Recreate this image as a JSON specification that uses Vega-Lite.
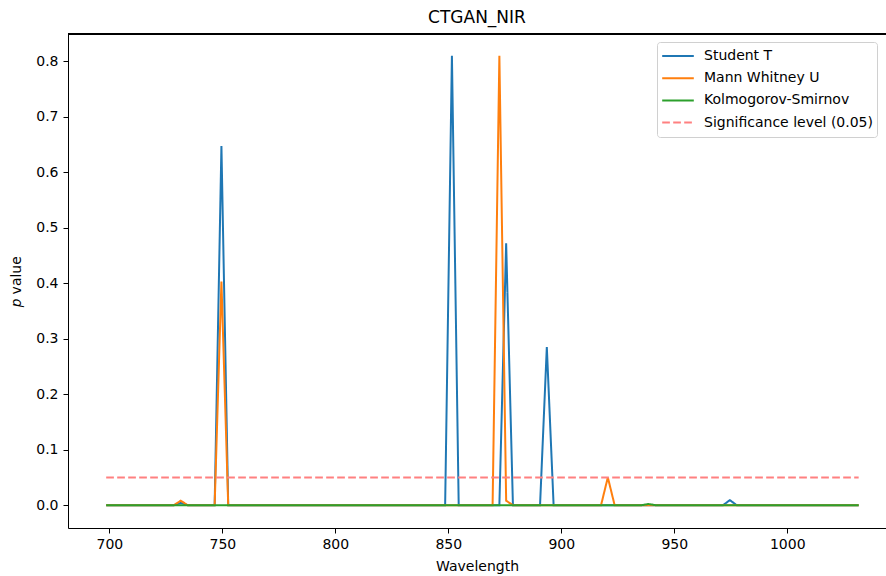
{
  "$schema": "https://vega.github.io/schema/vega-lite/v6.json",
  "width": 818,
  "height": 494,
  "autosize": "none",
  "padding": {"left": 68, "top": 34, "right": 0, "bottom": 48},
  "config": {
    "view": {"stroke": null},
    "font": "DejaVu Sans",
    "axis": {
      "domainColor": "#000000", "domainWidth": 1,
      "tickColor": "#000000", "tickWidth": 1, "tickSize": 5,
      "labelFont": "DejaVu Sans", "labelFontSize": 14, "labelColor": "#000000",
      "titleFont": "DejaVu Sans", "titleFontSize": 14, "titleFontWeight": "normal", "titleColor": "#000000",
      "grid": false
    }
  },
  "title": {"text": "CTGAN_NIR", "fontSize": 17, "fontWeight": "normal", "font": "DejaVu Sans", "color": "#000000", "offset": 7},
  "data": {"values": [
    {"w": 698.6, "t": 0, "m": 0, "ks": 0, "s": 0.05},
    {"w": 701.6, "t": 0, "m": 0, "ks": 0, "s": 0.05},
    {"w": 704.6, "t": 0, "m": 0, "ks": 0, "s": 0.05},
    {"w": 707.6, "t": 0, "m": 0, "ks": 0, "s": 0.05},
    {"w": 710.6, "t": 0, "m": 0, "ks": 0, "s": 0.05},
    {"w": 713.6, "t": 0, "m": 0, "ks": 0, "s": 0.05},
    {"w": 716.6, "t": 0, "m": 0, "ks": 0, "s": 0.05},
    {"w": 719.6, "t": 0, "m": 0, "ks": 0, "s": 0.05},
    {"w": 722.6, "t": 0, "m": 0, "ks": 0, "s": 0.05},
    {"w": 725.6, "t": 0, "m": 0, "ks": 0, "s": 0.05},
    {"w": 728.6, "t": 0, "m": 0, "ks": 0, "s": 0.05},
    {"w": 731.6, "t": 0.004, "m": 0.008, "ks": 0, "s": 0.05},
    {"w": 734.6, "t": 0, "m": 0, "ks": 0, "s": 0.05},
    {"w": 737.6, "t": 0, "m": 0, "ks": 0, "s": 0.05},
    {"w": 740.6, "t": 0, "m": 0, "ks": 0, "s": 0.05},
    {"w": 743.6, "t": 0, "m": 0, "ks": 0, "s": 0.05},
    {"w": 746.6, "t": 0, "m": 0, "ks": 0, "s": 0.05},
    {"w": 749.6, "t": 0.647, "m": 0.403, "ks": 0, "s": 0.05},
    {"w": 752.6, "t": 0, "m": 0, "ks": 0, "s": 0.05},
    {"w": 755.6, "t": 0, "m": 0, "ks": 0, "s": 0.05},
    {"w": 758.6, "t": 0, "m": 0, "ks": 0, "s": 0.05},
    {"w": 761.6, "t": 0, "m": 0, "ks": 0, "s": 0.05},
    {"w": 764.6, "t": 0, "m": 0, "ks": 0, "s": 0.05},
    {"w": 767.6, "t": 0, "m": 0, "ks": 0, "s": 0.05},
    {"w": 770.6, "t": 0, "m": 0, "ks": 0, "s": 0.05},
    {"w": 773.6, "t": 0, "m": 0, "ks": 0, "s": 0.05},
    {"w": 776.6, "t": 0, "m": 0, "ks": 0, "s": 0.05},
    {"w": 779.6, "t": 0, "m": 0, "ks": 0, "s": 0.05},
    {"w": 782.6, "t": 0, "m": 0, "ks": 0, "s": 0.05},
    {"w": 785.6, "t": 0, "m": 0, "ks": 0, "s": 0.05},
    {"w": 788.6, "t": 0, "m": 0, "ks": 0, "s": 0.05},
    {"w": 791.6, "t": 0, "m": 0, "ks": 0, "s": 0.05},
    {"w": 794.6, "t": 0, "m": 0, "ks": 0, "s": 0.05},
    {"w": 797.6, "t": 0, "m": 0, "ks": 0, "s": 0.05},
    {"w": 800.6, "t": 0, "m": 0, "ks": 0, "s": 0.05},
    {"w": 803.6, "t": 0, "m": 0, "ks": 0, "s": 0.05},
    {"w": 806.6, "t": 0, "m": 0, "ks": 0, "s": 0.05},
    {"w": 809.6, "t": 0, "m": 0, "ks": 0, "s": 0.05},
    {"w": 812.6, "t": 0, "m": 0, "ks": 0, "s": 0.05},
    {"w": 815.6, "t": 0, "m": 0, "ks": 0, "s": 0.05},
    {"w": 818.6, "t": 0, "m": 0, "ks": 0, "s": 0.05},
    {"w": 821.6, "t": 0, "m": 0, "ks": 0, "s": 0.05},
    {"w": 824.6, "t": 0, "m": 0, "ks": 0, "s": 0.05},
    {"w": 827.6, "t": 0, "m": 0, "ks": 0, "s": 0.05},
    {"w": 830.6, "t": 0, "m": 0, "ks": 0, "s": 0.05},
    {"w": 833.6, "t": 0, "m": 0, "ks": 0, "s": 0.05},
    {"w": 836.6, "t": 0, "m": 0, "ks": 0, "s": 0.05},
    {"w": 839.6, "t": 0, "m": 0, "ks": 0, "s": 0.05},
    {"w": 842.6, "t": 0, "m": 0, "ks": 0, "s": 0.05},
    {"w": 845.6, "t": 0, "m": 0, "ks": 0, "s": 0.05},
    {"w": 848.6, "t": 0, "m": 0, "ks": 0, "s": 0.05},
    {"w": 851.6, "t": 0.81, "m": 0, "ks": 0, "s": 0.05},
    {"w": 854.6, "t": 0, "m": 0, "ks": 0, "s": 0.05},
    {"w": 857.6, "t": 0, "m": 0, "ks": 0, "s": 0.05},
    {"w": 860.6, "t": 0, "m": 0, "ks": 0, "s": 0.05},
    {"w": 863.6, "t": 0, "m": 0, "ks": 0, "s": 0.05},
    {"w": 866.6, "t": 0, "m": 0, "ks": 0, "s": 0.05},
    {"w": 869.6, "t": 0, "m": 0, "ks": 0, "s": 0.05},
    {"w": 872.6, "t": 0, "m": 0.81, "ks": 0, "s": 0.05},
    {"w": 875.6, "t": 0.472, "m": 0.008, "ks": 0, "s": 0.05},
    {"w": 878.6, "t": 0, "m": 0, "ks": 0, "s": 0.05},
    {"w": 881.6, "t": 0, "m": 0, "ks": 0, "s": 0.05},
    {"w": 884.6, "t": 0, "m": 0, "ks": 0, "s": 0.05},
    {"w": 887.6, "t": 0, "m": 0, "ks": 0, "s": 0.05},
    {"w": 890.6, "t": 0, "m": 0, "ks": 0, "s": 0.05},
    {"w": 893.6, "t": 0.285, "m": 0, "ks": 0, "s": 0.05},
    {"w": 896.6, "t": 0, "m": 0, "ks": 0, "s": 0.05},
    {"w": 899.6, "t": 0, "m": 0, "ks": 0, "s": 0.05},
    {"w": 902.6, "t": 0, "m": 0, "ks": 0, "s": 0.05},
    {"w": 905.6, "t": 0, "m": 0, "ks": 0, "s": 0.05},
    {"w": 908.6, "t": 0, "m": 0, "ks": 0, "s": 0.05},
    {"w": 911.6, "t": 0, "m": 0, "ks": 0, "s": 0.05},
    {"w": 914.6, "t": 0, "m": 0, "ks": 0, "s": 0.05},
    {"w": 917.6, "t": 0, "m": 0, "ks": 0, "s": 0.05},
    {"w": 920.6, "t": 0, "m": 0.05, "ks": 0, "s": 0.05},
    {"w": 923.6, "t": 0, "m": 0, "ks": 0, "s": 0.05},
    {"w": 926.6, "t": 0, "m": 0, "ks": 0, "s": 0.05},
    {"w": 929.6, "t": 0, "m": 0, "ks": 0, "s": 0.05},
    {"w": 932.6, "t": 0, "m": 0, "ks": 0, "s": 0.05},
    {"w": 935.6, "t": 0, "m": 0, "ks": 0, "s": 0.05},
    {"w": 938.6, "t": 0, "m": 0, "ks": 0.002, "s": 0.05},
    {"w": 941.6, "t": 0, "m": 0, "ks": 0, "s": 0.05},
    {"w": 944.6, "t": 0, "m": 0, "ks": 0, "s": 0.05},
    {"w": 947.6, "t": 0, "m": 0, "ks": 0, "s": 0.05},
    {"w": 950.6, "t": 0, "m": 0, "ks": 0, "s": 0.05},
    {"w": 953.6, "t": 0, "m": 0, "ks": 0, "s": 0.05},
    {"w": 956.6, "t": 0, "m": 0, "ks": 0, "s": 0.05},
    {"w": 959.6, "t": 0, "m": 0, "ks": 0, "s": 0.05},
    {"w": 962.6, "t": 0, "m": 0, "ks": 0, "s": 0.05},
    {"w": 965.6, "t": 0, "m": 0, "ks": 0, "s": 0.05},
    {"w": 968.6, "t": 0, "m": 0, "ks": 0, "s": 0.05},
    {"w": 971.6, "t": 0, "m": 0, "ks": 0, "s": 0.05},
    {"w": 974.6, "t": 0.009, "m": 0, "ks": 0, "s": 0.05},
    {"w": 977.6, "t": 0, "m": 0, "ks": 0, "s": 0.05},
    {"w": 980.6, "t": 0, "m": 0, "ks": 0, "s": 0.05},
    {"w": 983.6, "t": 0, "m": 0, "ks": 0, "s": 0.05},
    {"w": 986.6, "t": 0, "m": 0, "ks": 0, "s": 0.05},
    {"w": 989.6, "t": 0, "m": 0, "ks": 0, "s": 0.05},
    {"w": 992.6, "t": 0, "m": 0, "ks": 0, "s": 0.05},
    {"w": 995.6, "t": 0, "m": 0, "ks": 0, "s": 0.05},
    {"w": 998.6, "t": 0, "m": 0, "ks": 0, "s": 0.05},
    {"w": 1001.6, "t": 0, "m": 0, "ks": 0, "s": 0.05},
    {"w": 1004.6, "t": 0, "m": 0, "ks": 0, "s": 0.05},
    {"w": 1007.6, "t": 0, "m": 0, "ks": 0, "s": 0.05},
    {"w": 1010.6, "t": 0, "m": 0, "ks": 0, "s": 0.05},
    {"w": 1013.6, "t": 0, "m": 0, "ks": 0, "s": 0.05},
    {"w": 1016.6, "t": 0, "m": 0, "ks": 0, "s": 0.05},
    {"w": 1019.6, "t": 0, "m": 0, "ks": 0, "s": 0.05},
    {"w": 1022.6, "t": 0, "m": 0, "ks": 0, "s": 0.05},
    {"w": 1025.6, "t": 0, "m": 0, "ks": 0, "s": 0.05},
    {"w": 1028.6, "t": 0, "m": 0, "ks": 0, "s": 0.05},
    {"w": 1031.6, "t": 0, "m": 0, "ks": 0, "s": 0.05}
  ]},
  "layer": [
    {
      "transform": [{"fold": ["t", "m", "ks", "s"], "as": ["key", "p"]}],
      "mark": {"type": "line", "strokeWidth": 2, "clip": true},
      "encoding": {
        "x": {"field": "w", "type": "quantitative",
          "scale": {"domain": [681.7, 1043.7], "nice": false, "zero": false},
          "axis": {"title": "Wavelength", "values": [700, 750, 800, 850, 900, 950, 1000], "format": "d", "labelPadding": 4, "titlePadding": 8, "labelFlush": false}},
        "y": {"field": "p", "type": "quantitative",
          "scale": {"domain": [-0.0412, 0.849], "nice": false, "zero": false},
          "axis": {"title": "𝑝 value", "values": [0, 0.1, 0.2, 0.3, 0.4, 0.5, 0.6, 0.7, 0.8], "format": ".1f", "labelPadding": 5, "titlePadding": 12, "labelFlush": false}},
        "color": {"field": "key", "type": "nominal",
          "scale": {"domain": ["t", "m", "ks", "s"], "range": ["#1f77b4", "#ff7f0e", "#2ca02c", "#ff8080"]},
          "legend": {"orient": "none", "legendX": 589, "legendY": 8, "title": null,
            "labelExpr": "datum.value == 't' ? 'Student T' : datum.value == 'm' ? 'Mann Whitney U' : datum.value == 'ks' ? 'Kolmogorov-Smirnov' : 'Significance level (0.05)'",
            "symbolType": "stroke", "symbolSize": 1000, "symbolStrokeWidth": 2,
            "labelFontSize": 14, "labelFont": "DejaVu Sans", "labelColor": "#000000", "labelOffset": 9, "labelLimit": 400,
            "padding": 4, "rowPadding": 2.2, "clipHeight": 20,
            "strokeColor": "#d0d0d0", "fillColor": "#ffffff", "cornerRadius": 3}},
        "strokeDash": {"field": "key", "type": "nominal",
          "scale": {"domain": ["t", "m", "ks", "s"], "range": [[1, 0], [1, 0], [1, 0], [7.7, 3.3]]},
          "legend": {"orient": "none", "legendX": 589, "legendY": 8, "title": null,
            "labelExpr": "datum.value == 't' ? 'Student T' : datum.value == 'm' ? 'Mann Whitney U' : datum.value == 'ks' ? 'Kolmogorov-Smirnov' : 'Significance level (0.05)'",
            "symbolType": "stroke", "symbolSize": 1000, "symbolStrokeWidth": 2,
            "labelFontSize": 14, "labelFont": "DejaVu Sans", "labelColor": "#000000", "labelOffset": 9, "labelLimit": 400,
            "padding": 4, "rowPadding": 2.2, "clipHeight": 20,
            "strokeColor": "#d0d0d0", "fillColor": "#ffffff", "cornerRadius": 3}}
      }
    },
    {
      "mark": {"type": "rule", "color": "#000000", "strokeWidth": 1},
      "encoding": {"y": {"datum": 0.849}}
    }
  ]
}
